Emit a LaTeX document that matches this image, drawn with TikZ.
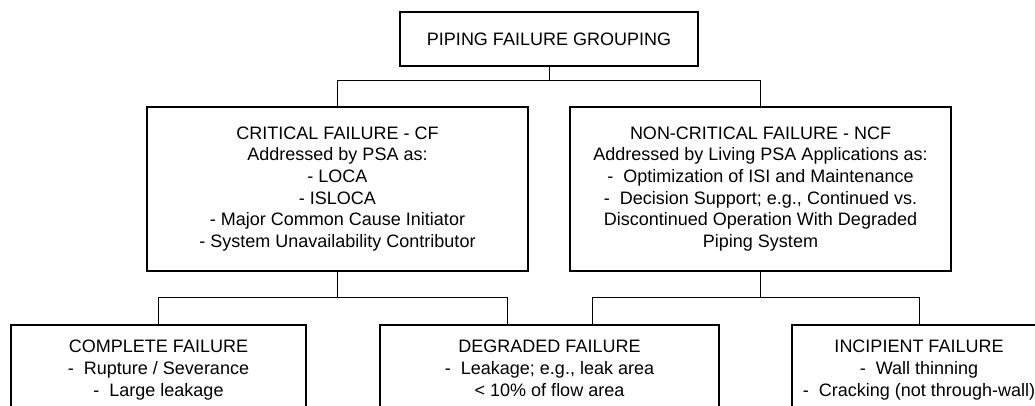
\documentclass[tikz,border=0pt]{standalone}
\usepackage{fontspec}
\setmainfont{Liberation Sans}

\begin{document}
\begin{tikzpicture}[x=1pt,y=-1pt,
    box/.style={draw,line width=1.6pt,align=center,inner sep=0pt,
                font=\fontsize{18}{21.7}\selectfont},
    link/.style={line width=0.8pt}]
\clip (0,0) rectangle (1035,405);
\node[box,minimum width=298,minimum height=54] (top) at (549,39)
    {PIPING FAILURE GROUPING};
\node[box,minimum width=381,minimum height=164] (cf) at (337.5,189)
    {CRITICAL FAILURE - CF\\Addressed by PSA as:\\- LOCA\\- ISLOCA\\
     - Major Common Cause Initiator\\- System Unavailability Contributor};
\node[box,minimum width=381,minimum height=164] (ncf) at (760.5,189)
    {NON-CRITICAL FAILURE - NCF\\Addressed by Living PSA Applications as:\\
     -\ \ Optimization of ISI and Maintenance\\
     -\ \ Decision Support; e.g., Continued vs.\\
     Discontinued Operation With Degraded\\Piping System};
\node[box,minimum width=295,minimum height=92.8] (complete) at (158.5,371.4)
    {COMPLETE FAILURE\\-\ \ Rupture / Severance\\-\ \ Large leakage\strut};
\node[box,minimum width=339,minimum height=92.8] (degraded) at (549.5,371.4)
    {DEGRADED FAILURE\\-\ \ Leakage; e.g., leak area\\< 10\% of flow area\strut};
\node[box,minimum width=254,minimum height=92.8] (incipient) at (919,371.4)
    {INCIPIENT FAILURE\\-\ \ Wall thinning\\-\ \ Cracking (not through-wall)\strut};
\draw[link] (top.south) -- ++(0,14) -| (cf.north);
\draw[link] (top.south) -- ++(0,14) -| (ncf.north);
\draw[link] (cf.south) -- ++(0,26) -| (complete.north);
\draw[link] (cf.south) -- ++(0,26) -| ([xshift=-42.5pt]degraded.north);
\draw[link] (ncf.south) -- ++(0,26) -| ([xshift=42.5pt]degraded.north);
\draw[link] (ncf.south) -- ++(0,26) -| (incipient.north);
\end{tikzpicture}
\end{document}
